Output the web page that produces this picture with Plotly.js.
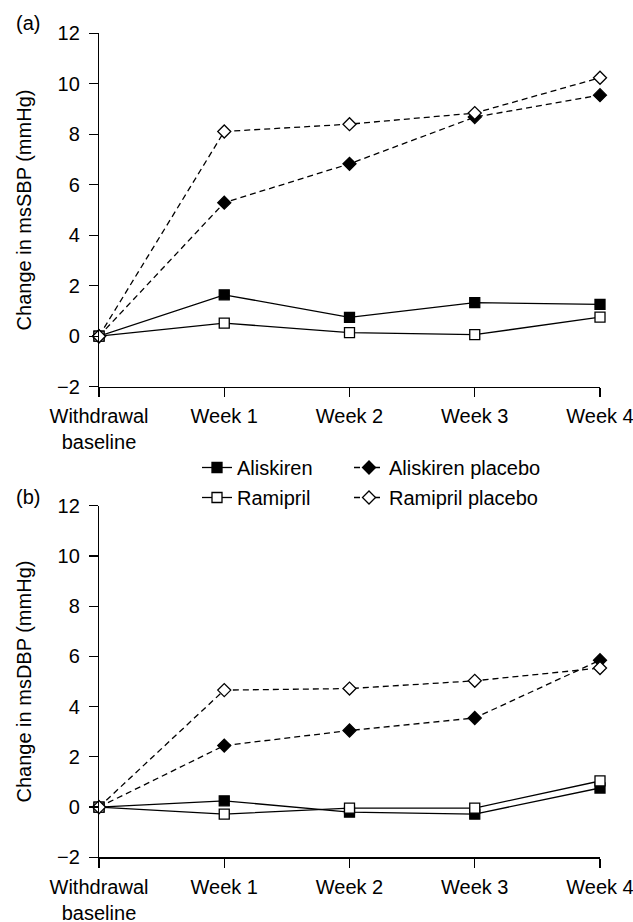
<!DOCTYPE html>
<html>
<head>
<meta charset="utf-8">
<script src="https://cdn.plot.ly/plotly-3.0.1.min.js"></script>
<style>
html,body{margin:0;padding:0;background:#fff;}
#chart{width:633px;height:922px;}
</style>
</head>
<body>
<div id="chart"></div>
<script>
// Categories (x axis)
const categories = ["Withdrawal<br>baseline", "Week 1", "Week 2", "Week 3", "Week 4"];

// Panel (a): change in msSBP (mmHg)
const sbpAliskiren        = [0, 1.64, 0.75, 1.33, 1.26];
const sbpAliskirenPlacebo = [0, 5.29, 6.83, 8.68, 9.55];
const sbpRamipril         = [0, 0.52, 0.14, 0.06, 0.76];
const sbpRamiprilPlacebo  = [0, 8.11, 8.40, 8.84, 10.24];

// Panel (b): change in msDBP (mmHg)
const dbpAliskiren        = [0, 0.25, -0.20, -0.28, 0.76];
const dbpAliskirenPlacebo = [0, 2.45, 3.05, 3.55, 5.85];
const dbpRamipril         = [0, -0.28, -0.04, -0.04, 1.04];
const dbpRamiprilPlacebo  = [0, 4.66, 4.72, 5.03, 5.54];

const seriesNames = ["Aliskiren", "Aliskiren placebo", "Ramipril", "Ramipril placebo"];
const yTickVals = [-2, 0, 2, 4, 6, 8, 10, 12];
const yTickText = ["\u22122", "0", "2", "4", "6", "8", "10", "12"];

const FONT = "Liberation Sans, Arial, Helvetica, sans-serif";
const FS = 20;
const styles = [
  {dash: "solid", symbol: "square", fill: "#000", size: 10, legend: "legend"},
  {dash: "6px,4px", symbol: "diamond", fill: "#000", size: 10, legend: "legend2"},
  {dash: "solid", symbol: "square", fill: "#fff", size: 10, legend: "legend"},
  {dash: "6px,4px", symbol: "diamond", fill: "#fff", size: 10, legend: "legend2"}
];

function mk(y, i, xa, ya, show) {
  const s = styles[i];
  return {
    x: categories, y: y, xaxis: xa, yaxis: ya,
    type: "scatter", mode: "lines+markers", name: seriesNames[i],
    legend: s.legend, legendgroup: "g" + i, showlegend: show,
    cliponaxis: false,
    line: {color: "#000", width: 1.3, dash: s.dash},
    marker: {symbol: s.symbol, size: s.size, color: s.fill, line: {color: "#000", width: 1.3}}
  };
}

const aData = [sbpAliskiren, sbpAliskirenPlacebo, sbpRamipril, sbpRamiprilPlacebo];
const bData = [dbpAliskiren, dbpAliskirenPlacebo, dbpRamipril, dbpRamiprilPlacebo];
const traces = [];
aData.forEach((d, i) => traces.push(mk(d, i, "x", "y", true)));
bData.forEach((d, i) => traces.push(mk(d, i, "x2", "y2", false)));

const H = 922;
function frac(px) { return 1 - px / H; }

const xBase = {
  type: "category", range: [0, 4], showline: true, linecolor: "#000", linewidth: 1.2,
  ticks: "outside", ticklen: 9, tickwidth: 1.2, tickcolor: "#000",
  showgrid: false, zeroline: false, fixedrange: true, ticklabelstandoff: 2,
  tickfont: {family: FONT, size: FS, color: "#000"}
};
const yBase = {
  range: [-2, 12], tickvals: yTickVals, ticktext: yTickText,
  showline: true, linecolor: "#000", linewidth: 1.2,
  ticks: "outside", ticklen: 9, tickwidth: 1.2, tickcolor: "#000",
  showgrid: false, zeroline: false, fixedrange: true, ticklabelstandoff: 5,
  tickfont: {family: FONT, size: FS, color: "#000"}
};

const layout = {
  width: 633, height: 922,
  margin: {l: 99, r: 33, t: 0, b: 0},
  paper_bgcolor: "#fff", plot_bgcolor: "#fff",
  font: {family: FONT, size: FS, color: "#000"},
  xaxis: Object.assign({}, xBase, {anchor: "y", domain: [0, 1]}),
  yaxis: Object.assign({}, yBase, {anchor: "x", domain: [frac(386.7), frac(33.3)],
    title: {text: "Change in msSBP (mmHg)", font: {family: FONT, size: FS, color: "#000"}, standoff: 20}}),
  xaxis2: Object.assign({}, xBase, {anchor: "y2", domain: [0, 1]}),
  yaxis2: Object.assign({}, yBase, {anchor: "x2", domain: [frac(857.3), frac(505.8)],
    title: {text: "Change in msDBP (mmHg)", font: {family: FONT, size: FS, color: "#000"}, standoff: 20}}),
  legend: {x: (197 - 99) / 501, y: frac(448), xanchor: "left", yanchor: "top",
    bgcolor: "rgba(0,0,0,0)", font: {family: FONT, size: FS, color: "#000"},
    tracegroupgap: 1, itemwidth: 30},
  legend2: {x: (349 - 99) / 501, y: frac(448), xanchor: "left", yanchor: "top",
    bgcolor: "rgba(0,0,0,0)", font: {family: FONT, size: FS, color: "#000"},
    tracegroupgap: 1, itemwidth: 30},
  annotations: [
    {text: "(a)", xref: "paper", yref: "paper", x: (14 - 99) / 501, y: frac(23), xanchor: "left", yanchor: "middle",
      showarrow: false, font: {family: FONT, size: FS, color: "#000"}},
    {text: "(b)", xref: "paper", yref: "paper", x: (14 - 99) / 501, y: frac(497), xanchor: "left", yanchor: "middle",
      showarrow: false, font: {family: FONT, size: FS, color: "#000"}}
  ],
  showlegend: true
};

Plotly.newPlot("chart", traces, layout, {displayModeBar: false, staticPlot: true});
</script>
</body>
</html>
